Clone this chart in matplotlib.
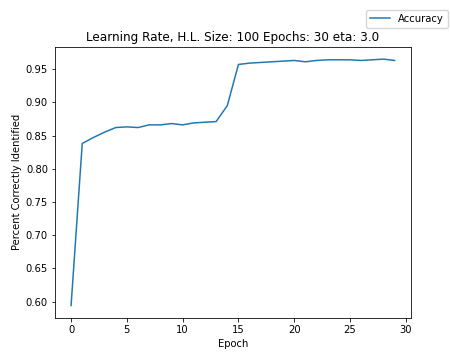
import matplotlib
matplotlib.use("Agg")
import matplotlib.pyplot as plt

epochs = list(range(30))
accuracy = [0.594, 0.838, 0.847, 0.855, 0.862, 0.863, 0.862, 0.866, 0.866, 0.868,
            0.866, 0.869, 0.870, 0.871, 0.895, 0.957, 0.959, 0.960, 0.961, 0.962,
            0.963, 0.961, 0.963, 0.964, 0.964, 0.964, 0.963, 0.964, 0.965, 0.963]
title = "Learning Rate, H.L. Size: 100 Epochs: 30 eta: 3.0"

s = 0.72
plt.rcParams.update({
    'font.size': 10 * s,
    'axes.linewidth': 0.8 * s,
    'xtick.major.size': 3.5 * s, 'ytick.major.size': 3.5 * s,
    'xtick.major.width': 0.8 * s, 'ytick.major.width': 0.8 * s,
    'xtick.major.pad': 3.5 * s, 'ytick.major.pad': 3.5 * s,
    'axes.labelpad': 4 * s,
    'axes.titlepad': 6 * s,
    'legend.edgecolor': '0.8',
})
fig = plt.figure(figsize=(4.5, 3.52), dpi=100)
ax = fig.add_axes([0.122, 0.097, 0.791, 0.770])
ax.plot(epochs, accuracy, color='#1f77b4', linewidth=1.5 * s, label='Accuracy')
ax.set_title(title, fontsize=12 * s)
ax.set_xlabel('Epoch')
ax.set_ylabel('Percent Correctly Identified')
ax.set_yticks([0.60, 0.65, 0.70, 0.75, 0.80, 0.85, 0.90, 0.95])
ax.set_xticks([0, 5, 10, 15, 20, 25, 30])
fig.legend(loc='upper right', bbox_to_anchor=(1.0, 0.978), borderaxespad=0.2)
fig.savefig('out.png', dpi=100)
